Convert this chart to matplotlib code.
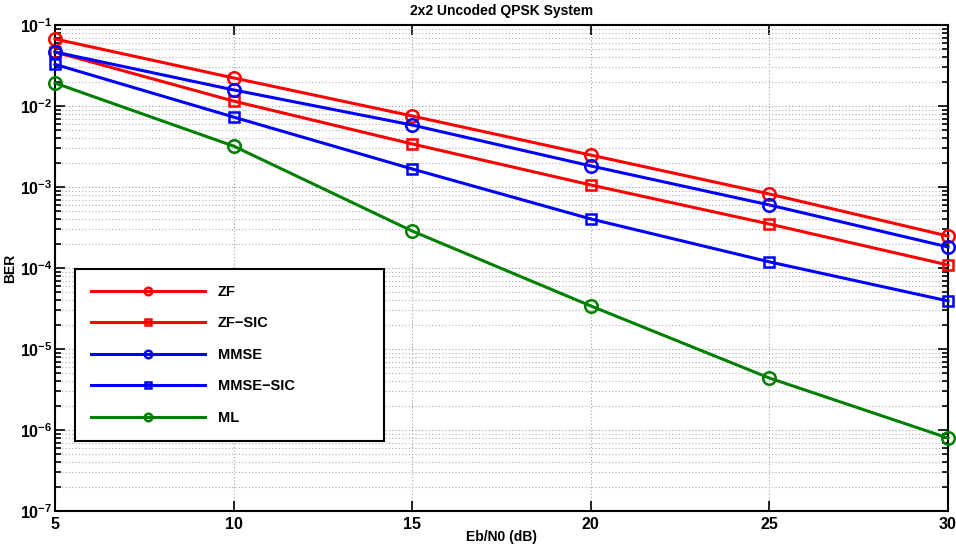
import matplotlib
matplotlib.use("Agg")
import matplotlib.pyplot as plt
from matplotlib.ticker import LogLocator, FuncFormatter, NullFormatter
import numpy as np

plt.rcParams["font.family"] = ["Liberation Sans", "DejaVu Sans"]
plt.rcParams["font.weight"] = "bold"
plt.rcParams["mathtext.fontset"] = "custom"
plt.rcParams["mathtext.rm"] = "Liberation Sans:bold"
plt.rcParams["mathtext.bf"] = "Liberation Sans:bold"
plt.rcParams["mathtext.it"] = "Liberation Sans:bold"

# Eb/N0 points (dB)
ebn0 = [5, 10, 15, 20, 25, 30]

# BER curves
ber_zf = [0.0672, 0.0222, 0.00753, 0.00248, 8.2e-4, 2.48e-4]
ber_zf_sic = [0.0464, 0.0115, 0.0034, 1.06e-3, 3.49e-4, 1.09e-4]
ber_mmse = [0.0464, 0.0158, 0.00582, 1.82e-3, 6.0e-4, 1.82e-4]
ber_mmse_sic = [0.0327, 0.0073, 1.67e-3, 4.03e-4, 1.19e-4, 3.92e-5]
ber_ml = [0.0192, 3.2e-3, 2.86e-4, 3.4e-5, 4.38e-6, 7.96e-7]

labels = ["ZF", "ZF\u2212SIC", "MMSE", "MMSE\u2212SIC", "ML"]
series = [ber_zf, ber_zf_sic, ber_mmse, ber_mmse_sic, ber_ml]
colors = ["#ff0000", "#ff0000", "#0000ff", "#0000ff", "#008000"]
markers = ["o", "s", "o", "s", "o"]

fig = plt.figure(figsize=(9.56, 5.47), dpi=100)
ax = fig.add_axes([55 / 956, 1 - 511 / 547, 893 / 956, 486 / 547])

for ber, lab, c, m in zip(series, labels, colors, markers):
    ax.semilogy(ebn0, ber, color=c, marker=m, label=lab, linewidth=2.2,
                markersize=9 if m == "o" else 7, markerfacecolor="none",
                markeredgewidth=1.8, clip_on=False, zorder=5)

ax.set_xlim(5, 30)
ax.set_ylim(1e-7, 1e-1)
ax.set_xticks([5, 10, 15, 20, 25, 30])
ax.yaxis.set_major_locator(LogLocator(base=10, numticks=10))
ax.yaxis.set_minor_locator(LogLocator(base=10, subs=np.arange(2, 10), numticks=20))
ax.yaxis.set_minor_formatter(NullFormatter())
ax.yaxis.set_major_formatter(FuncFormatter(
    lambda v, p: r"$\mathbf{10^{%d}}$" % int(round(np.log10(v)))))

ax.tick_params(which="both", direction="in", top=True, right=True,
               labelsize=11.5, width=1.2)
ax.tick_params(which="major", length=7)
ax.tick_params(axis="x", which="major", pad=4)
ax.tick_params(axis="y", which="major", pad=2)
ax.tick_params(which="minor", length=4)
ax.grid(True, which="major", axis="both", linestyle=(0, (1, 2)), color="#a0a0a0", linewidth=0.8)
ax.grid(True, which="minor", axis="y", linestyle=(0, (1, 2)), color="#b0b0b0", linewidth=0.8)
for s in ax.spines.values():
    s.set_linewidth(1.5)

ax.set_xlabel("Eb/N0 (dB)", fontsize=10, fontweight="bold", labelpad=-1)
ax.set_ylabel("BER", fontsize=10, fontweight="bold", labelpad=2)
ax.set_title("2x2 Uncoded QPSK System", fontsize=10, fontweight="bold", pad=7)

leg = ax.legend(loc="lower left", bbox_to_anchor=(0.0224, 0.144, 0.346, 0.348),
                mode="expand", fontsize=10.5, handlelength=7.8, handletextpad=0.9,
                labelspacing=1.2, borderpad=1.1, borderaxespad=0, fancybox=False,
                framealpha=1, edgecolor="black", markerscale=0.6)
leg.get_frame().set_linewidth(1.5)
leg.set_zorder(10)

fig.savefig("out.png", dpi=100)
